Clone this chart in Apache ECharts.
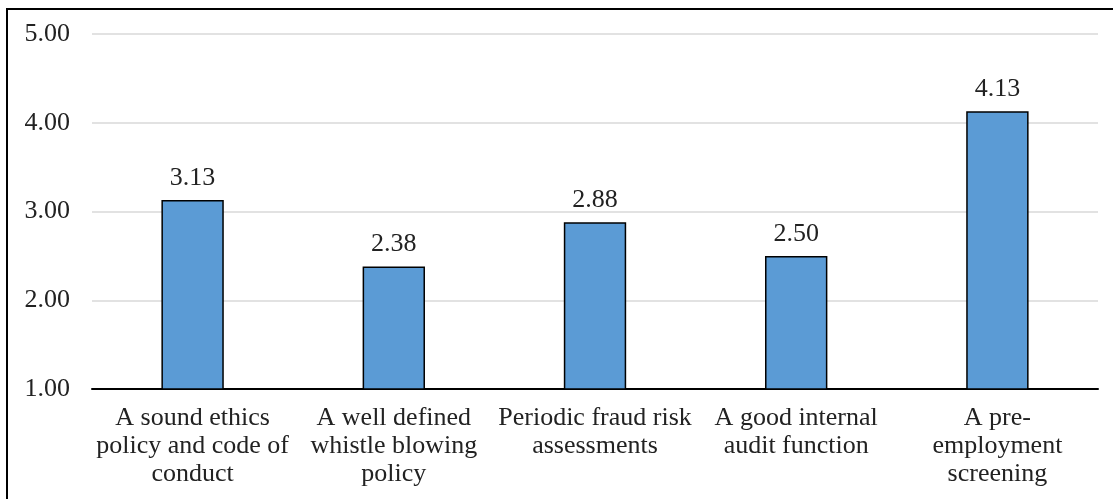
<!DOCTYPE html>
<html>
<head>
<meta charset="utf-8">
<script src="https://cdn.jsdelivr.net/npm/echarts@6/dist/echarts.min.js"></script>
<style>
  html, body { margin: 0; padding: 0; background: #fff; overflow: hidden; }
  #frame { position: absolute; left: 6px; top: 8px; width: 1200px; height: 600px; border: 2.5px solid #000; }
  #chart { position: absolute; left: 0; top: 0; width: 1113px; height: 499px; }
</style>
</head>
<body>
<div id="frame"></div>
<div id="chart"></div>
<script>
// Fraud prevention measures and their mean ratings
const categories = [
  'A sound ethics\npolicy and code of\nconduct',
  'A well defined\nwhistle blowing\npolicy',
  'Periodic fraud risk\nassessments',
  'A good internal\naudit function',
  'A pre-\nemployment\nscreening'
];
const meanScores = [3.13, 2.38, 2.88, 2.50, 4.13];
const yMin = 1;
const yMax = 5;
const yStep = 1;

const chart = echarts.init(document.getElementById('chart'), null, { renderer: 'canvas' });
const serif = '"Liberation Serif", "Times New Roman", serif';

chart.setOption({
  backgroundColor: 'transparent',
  animation: false,
  grid: { left: 92, right: 15, top: 34, bottom: 110, containLabel: false },
  xAxis: {
    type: 'category',
    data: categories,
    axisLine: { lineStyle: { color: '#000', width: 2 } },
    axisTick: { show: false },
    axisLabel: {
      interval: 0,
      margin: 15,
      fontFamily: serif,
      fontSize: 26,
      lineHeight: 28,
      color: '#222'
    }
  },
  yAxis: {
    type: 'value',
    min: yMin,
    max: yMax,
    interval: yStep,
    axisLine: { show: false },
    axisTick: { show: false },
    splitLine: { lineStyle: { color: '#d9d9d9', width: 1.5 } },
    axisLabel: {
      margin: 22,
      fontFamily: serif,
      fontSize: 26,
      color: '#222',
      formatter: v => v.toFixed(2)
    }
  },
  series: [{
    type: 'bar',
    data: meanScores,
    barWidth: '31%',
    itemStyle: { color: '#5b9bd5', borderColor: '#000', borderWidth: 1.5 },
    label: {
      show: true,
      position: 'top',
      distance: 9,
      fontFamily: serif,
      fontSize: 26,
      color: '#222',
      formatter: p => p.value.toFixed(2)
    }
  }]
});
</script>
</body>
</html>
